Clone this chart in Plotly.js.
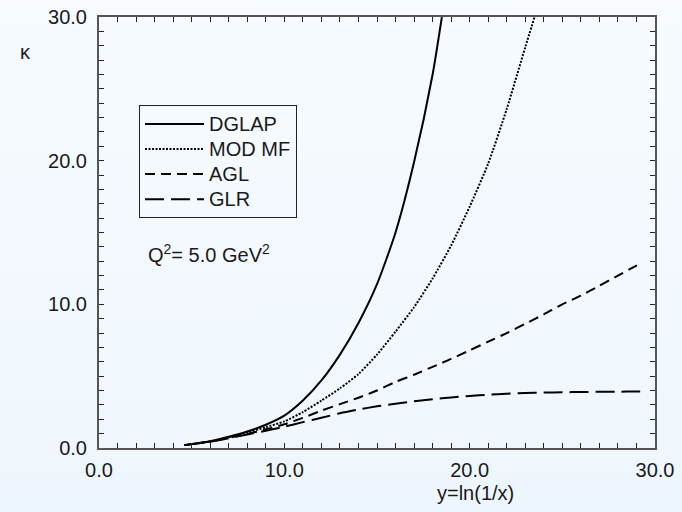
<!DOCTYPE html>
<html>
<head>
<meta charset="utf-8">
<script src="https://cdn.plot.ly/plotly-3.0.1.min.js"></script>
<style>
  html, body { margin: 0; padding: 0; }
  body { width: 682px; height: 512px; background: linear-gradient(#f7fbff, #eef6fd); }
  #chart { width: 682px; height: 512px; }
</style>
</head>
<body>
<div id="chart"></div>
<script>
// kappa versus y = ln(1/x) at Q^2 = 5 GeV^2
const xDGLAP = [4.6, 5, 6, 7, 8, 9, 10, 11, 12, 13, 14, 15, 16, 17, 18, 18.5];
const yDGLAP = [0.2, 0.27, 0.47, 0.78, 1.15, 1.62, 2.25, 3.3, 4.7, 6.5, 8.7, 11.4, 15.0, 19.9, 26.0, 30.0];

const xMODMF = [4.6, 5, 6, 7, 8, 9, 10, 11, 12, 13, 14, 15, 16, 17, 18, 19, 20, 21, 22, 23, 23.5];
const yMODMF = [0.2, 0.27, 0.46, 0.74, 1.08, 1.45, 1.85, 2.5, 3.3, 4.15, 5.15, 6.5, 8.1, 9.8, 11.8, 14.1, 16.8, 19.8, 23.6, 27.9, 30.0];

const xAGL = [4.6, 5, 6, 7, 8, 9, 10, 11, 12, 13, 14, 15, 16, 17, 18, 19, 20, 21, 22, 23, 24, 25, 26, 27, 28, 29, 29.2];
const yAGL = [0.2, 0.27, 0.45, 0.7, 0.98, 1.3, 1.65, 2.1, 2.6, 3.05, 3.5, 4.0, 4.6, 5.1, 5.65, 6.2, 6.8, 7.4, 8.0, 8.65, 9.3, 10.0, 10.6, 11.3, 12.0, 12.7, 12.85];

const xGLR = [4.6, 5, 6, 7, 8, 9, 10, 11, 12, 13, 14, 15, 16, 17, 18, 19, 20, 21, 22, 23, 24, 25, 26, 27, 28, 29, 29.2];
const yGLR = [0.2, 0.27, 0.44, 0.68, 0.94, 1.2, 1.48, 1.8, 2.1, 2.42, 2.68, 2.9, 3.08, 3.25, 3.4, 3.52, 3.62, 3.71, 3.78, 3.82, 3.86, 3.88, 3.9, 3.91, 3.92, 3.93, 3.93];

const seriesNames = ['DGLAP', 'MOD MF', 'AGL', 'GLR'];
const xTickVals = [0, 10, 20, 30];
const xTickText = ['0.0', '10.0', '20.0', '30.0'];
const yTickVals = [0, 10, 20, 30];
const yTickText = ['0.0', '10.0', '20.0', '30.0'];

const FONT = 'Liberation Sans, Arial, sans-serif';
const INK = '#1a1a1a';

function curve(x, y, name, dash) {
  return {
    type: 'scatter', mode: 'lines', x: x, y: y,
    // legend rows are spaced by the legend font; the label itself is drawn at 20px
    name: '<span style="font-size:20px">' + name + '</span>',
    line: { color: '#000', width: 2, dash: dash, shape: 'spline', smoothing: 0.6 }
  };
}

const traces = [
  curve(xDGLAP, yDGLAP, seriesNames[0], 'solid'),
  curve(xMODMF, yMODMF, seriesNames[1], '2px,1.5px'),
  curve(xAGL, yAGL, seriesNames[2], '10px,6px'),
  curve(xGLR, yGLR, seriesNames[3], '19px,7px')
];

// a tick at every unit on all four sides, labelled at the values in the tick arrays
function axisUnitTicks(tickvals, ticktext, standoff) {
  const lo = tickvals[0], hi = tickvals[tickvals.length - 1];
  const vals = [], text = [];
  for (let v = lo; v <= hi; v++) {
    vals.push(v);
    const k = tickvals.indexOf(v);
    text.push(k >= 0 ? ticktext[k] : '');
  }
  return {
    range: [lo, hi],
    showgrid: false, zeroline: false,
    showline: true, linecolor: '#555', linewidth: 2,
    mirror: 'allticks',
    tickmode: 'array', tickvals: vals, ticktext: text,
    ticks: 'inside', ticklen: 5, tickwidth: 1, tickcolor: '#222',
    tickfont: { family: FONT, size: 20, color: INK },
    ticklabelstandoff: standoff
  };
}

const layout = {
  width: 682, height: 512,
  margin: { l: 99, r: 27, t: 17, b: 64 },
  paper_bgcolor: 'rgba(0,0,0,0)',
  plot_bgcolor: 'rgba(0,0,0,0)',
  font: { family: FONT, size: 20, color: INK },
  xaxis: axisUnitTicks(xTickVals, xTickText, 3),
  yaxis: axisUnitTicks(yTickVals, yTickText, 6),
  legend: {
    x: 0.072, y: 0.795, xanchor: 'left', yanchor: 'top',
    bgcolor: 'rgba(0,0,0,0)', bordercolor: '#222', borderwidth: 1,
    font: { family: FONT, size: 17, color: INK },
    itemwidth: 59, tracegroupgap: 0
  },
  showlegend: true,
  annotations: [
    { xref: 'paper', yref: 'paper', x: -0.133, y: 0.919, xanchor: 'center', yanchor: 'middle',
      text: 'κ', showarrow: false, font: { family: FONT, size: 20, color: INK } },
    { xref: 'paper', yref: 'paper', x: 0.75, y: -0.104, xanchor: 'right', yanchor: 'middle',
      text: 'y=ln(1/x)', showarrow: false, font: { family: FONT, size: 20, color: INK } },
    { xref: 'paper', yref: 'paper', x: 0.0845, y: 0.452, xanchor: 'left', yanchor: 'middle',
      text: 'Q<sup>2</sup>= 5.0 GeV<sup>2</sup>', showarrow: false, font: { family: FONT, size: 20, color: INK } }
  ]
};

Plotly.newPlot('chart', traces, layout, { displayModeBar: false });
</script>
</body>
</html>
